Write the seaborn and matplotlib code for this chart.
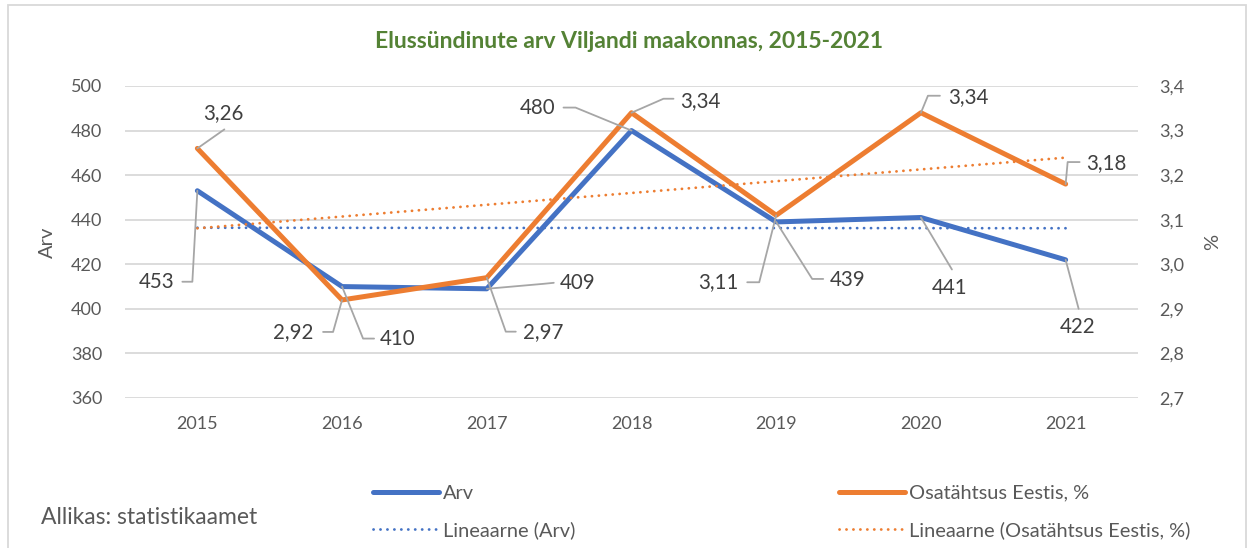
import numpy as np
import pandas as pd
import matplotlib
matplotlib.use("Agg")
import matplotlib.pyplot as plt
import matplotlib.transforms as mtransforms
from matplotlib.lines import Line2D
from matplotlib.patches import Rectangle
import seaborn as sns

# ---- data ----
years = [2015, 2016, 2017, 2018, 2019, 2020, 2021]
arv = [453, 410, 409, 480, 439, 441, 422]
osatahtsus = [3.26, 2.92, 2.97, 3.34, 3.11, 3.34, 3.18]
arv_labels = ["453", "410", "409", "480", "439", "441", "422"]
osa_labels = ["3,26", "2,92", "2,97", "3,34", "3,11", "3,34", "3,18"]
left_ticks = [360, 380, 400, 420, 440, 460, 480, 500]
right_ticks = [2.7, 2.8, 2.9, 3.0, 3.1, 3.2, 3.3, 3.4]
right_tick_labels = ["2,7", "2,8", "2,9", "3,0", "3,1", "3,2", "3,3", "3,4"]
title = "Elussündinute arv Viljandi maakonnas, 2015-2021"
legend_labels = ["Arv", "Lineaarne (Arv)", "Osatähtsus Eestis, %", "Lineaarne (Osatähtsus Eestis, %)"]
source_text = "Allikas: statistikaamet"

# linear trends (Excel-style linear trendline)
xi = np.arange(len(years))
arv_fit = np.polyval(np.polyfit(xi, arv, 1), xi)
osa_fit = np.polyval(np.polyfit(xi, osatahtsus, 1), xi)

df = pd.DataFrame({"year": years, "arv": arv, "osa": osatahtsus,
                   "arv_trend": arv_fit, "osa_trend": osa_fit})

# ---- style ----
sns.set_style("white")
plt.rcParams["font.family"] = ["Lato", "DejaVu Sans"]

BLUE = "#4472C4"
ORANGE = "#ED7D31"
GRID = "#D9D9D9"
TICK = "#595959"
LABEL = "#404040"
LEADER = "#A6A6A6"
DOT = (0, (0.05, 2.45))

W, H = 1251, 548
fig = plt.figure(figsize=(W / 100, H / 100), dpi=100)
ax = fig.add_axes([125 / W, 1 - 398 / H, (1138 - 125) / W, (398 - 86) / H])
ax2 = ax.twinx()

# outer chart border
fig.patches.append(Rectangle((8 / W, -0.05), (1246 - 8) / W, 1 - 5 / H + 0.05,
                             transform=fig.transFigure, fill=False,
                             edgecolor=GRID, lw=1.3))

sns.lineplot(data=df, x="year", y="arv", ax=ax, color=BLUE, lw=3.6,
             solid_capstyle="round", solid_joinstyle="round", legend=False)
sns.lineplot(data=df, x="year", y="arv_trend", ax=ax, color=BLUE, lw=2.0,
             linestyle=DOT, dash_capstyle="round", legend=False)
sns.lineplot(data=df, x="year", y="osa", ax=ax2, color=ORANGE, lw=3.6,
             solid_capstyle="round", solid_joinstyle="round", legend=False)
sns.lineplot(data=df, x="year", y="osa_trend", ax=ax2, color=ORANGE, lw=2.0,
             linestyle=DOT, dash_capstyle="round", legend=False)

ax.set_xlim(years[0] - 0.5, years[-1] + 0.5)
ax.set_ylim(360, 500)
ax2.set_ylim(2.7, 3.4)

ax.set_xticks(years)
ax.set_xticklabels([str(y) for y in years])
ax.set_yticks(left_ticks)
ax.set_yticklabels([str(t) for t in left_ticks])
ax2.set_yticks(right_ticks)
ax2.set_yticklabels(right_tick_labels)

ax.yaxis.grid(True, color=GRID, lw=1.3)
ax.xaxis.grid(False)
ax.set_axisbelow(True)
for a in (ax, ax2):
    for s in a.spines.values():
        s.set_visible(False)
    a.set_xlabel("")
    a.set_ylabel("")
ax2.patch.set_visible(False)

ax.tick_params(axis="y", length=0, pad=16.5, labelsize=13, labelcolor=TICK)
ax.tick_params(axis="x", length=0, pad=13, labelsize=13, labelcolor=TICK)
ax2.tick_params(axis="y", length=0, pad=15, labelsize=13, labelcolor=TICK)

# titles and axis labels
fig.text(629 / W, 1 - 42 / H, title, ha="center", va="center",
         fontsize=16.5, fontweight="bold", color="#548235")
fig.text(47 / W, 1 - 242 / H, "Arv", rotation=90, ha="center", va="center",
         fontsize=14.5, color=TICK)
fig.text(1213 / W, 1 - 242 / H, "%", rotation=90, ha="center", va="center",
         fontsize=14.5, color=TICK)
fig.text(41 / W, 1 - 517 / H, source_text, ha="left", va="center",
         fontsize=16.5, color=TICK)

# data labels with leader lines (offsets in pixels, image y-down)
arv_pos = [((-41, 91), (-5, 91), (-15, 91)),
           ((56, 52), (21, 52), (32, 52)),
           ((91, -6), (57, -5), (67, -6)),
           ((-94, -23), (-56, -23), (-68, -23)),
           ((71, 58), (36, 57), (47, 57)),
           ((29, 71), (31, 52), (31, 52)),
           ((12, 67), (13, 49), (13, 49))]
osa_pos = [((26, -35), (27, -19), (27, -19)),
           ((-49, 32), (-9, 32), (-19, 32)),
           ((56, 54), (19, 54), (29, 54)),
           ((69, -12), (32, -14), (42, -14)),
           ((-58, 67), (-17, 67), (-29, 67)),
           ((47, -16), (7, -17), (19, -17)),
           ((41, -21), (2, -22), (14, -22))]


def label_series(a, xs, ys, texts, positions):
    for x, y, t, (tp, cp, ep) in zip(xs, ys, texts, positions):
        px, py = a.transData.transform((x, y))
        tr = mtransforms.Affine2D().translate(px, py)
        fig.add_artist(Line2D([0, cp[0], ep[0]], [0, -cp[1], -ep[1]], transform=tr,
                              color=LEADER, lw=1.3, zorder=5))
        a.annotate(t, xy=(x, y), xytext=(tp[0], -tp[1]), textcoords="offset pixels",
                   ha="center", va="center", fontsize=14.8, color=LABEL, zorder=6)


label_series(ax, years, arv, arv_labels, arv_pos)
label_series(ax2, years, osatahtsus, osa_labels, osa_pos)

# legend
hl = [Line2D([], [], color=BLUE, lw=3.6, solid_capstyle="round"),
      Line2D([], [], color=BLUE, lw=2.0, linestyle=DOT, dash_capstyle="round"),
      Line2D([], [], color=ORANGE, lw=3.6, solid_capstyle="round"),
      Line2D([], [], color=ORANGE, lw=2.0, linestyle=DOT, dash_capstyle="round")]
leg = fig.legend(hl, legend_labels, loc="center left",
                 bbox_to_anchor=(373 / W, 1 - 512 / H), bbox_transform=fig.transFigure,
                 ncol=2, frameon=False, fontsize=14.4, labelcolor=TICK,
                 handlelength=3.3, handletextpad=0.2, columnspacing=13.2,
                 labelspacing=1.0, borderpad=0, borderaxespad=0)

fig.savefig("out.png", dpi=100, facecolor="white")
